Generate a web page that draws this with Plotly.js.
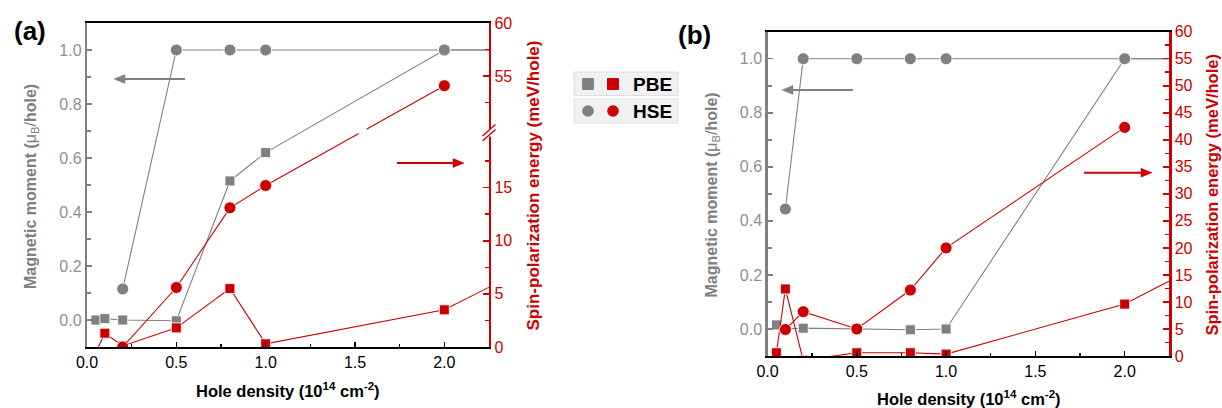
<!DOCTYPE html>
<html>
<head>
<meta charset="utf-8">
<script src="https://cdn.plot.ly/plotly-3.0.1.min.js"></script>
<style>html,body{margin:0;padding:0;background:#fff;}#chart{width:1222px;height:408px;}</style>
</head>
<body>
<div id="chart"></div>
<script>
// ---------- data ----------
// Panel (a)
const xPBE_a   = [0.05, 0.1, 0.2, 0.5, 0.8, 1.0, 2.0, 3.0];
const magPBE_a = [0.0, 0.005, 0.0, -0.003, 0.515, 0.62, 1.0, 1.0];
const spinPBE_a = [-0.5, 1.3, 0.1, 1.8, 5.5, 0.3, 3.5, 12.0];
const xHSEmag_a = [0.2, 0.5, 0.8, 1.0, 2.0, 3.0];
const magHSE_a  = [0.115, 1.0, 1.0, 1.0, 1.0, 1.0];
const xHSEspin_a = [0.2, 0.5, 0.8, 1.0, 2.0];
const spinHSE_a  = [0.0, 5.6, 13.1, 15.2, 54.1];
// Panel (b)
const xPBE_b   = [0.05, 0.1, 0.2, 0.5, 0.8, 1.0, 2.0, 3.0];
const magPBE_b = [0.015, 0.0, 0.003, 0.0, -0.003, 0.0, 1.0, 1.0];
const spinPBE_b = [0.6, 12.4, -0.8, 0.6, 0.6, 0.35, 9.6, 26.8];
const xHSEmag_b = [0.1, 0.2, 0.5, 0.8, 1.0, 2.0, 3.0];
const magHSE_b  = [0.444, 1.0, 1.0, 1.0, 1.0, 1.0, 1.0];
const xHSEspin_b = [0.1, 0.2, 0.5, 0.8, 1.0, 2.0];
const spinHSE_b  = [4.9, 8.2, 5.0, 12.2, 20.0, 42.3];
// tick labels
const xTicks = [0, 0.5, 1.0, 1.5, 2.0];
const magTicks = [0, 0.2, 0.4, 0.6, 0.8, 1.0];
const spinTicksA = [0, 5, 10, 15, 55, 60];
const spinMinorA = [2.5, 7.5, 12.5, 17.5, 52.5, 57.5];

// ---------- broken axis for panel (a) right axis ----------
const BREAK_LOW = 20.3, BREAK_SHIFT = 29.5;
const brk = v => (v > BREAK_LOW ? v - BREAK_SHIFT : v);

const W = 1222, H = 408;
const px = x => x / W;
const py = y => 1 - y / H;

const GRAY = '#808080', GRAYTXT = '#8f8f8f', RED = '#cc0000';
const FONT = 'Arial, "Liberation Sans", sans-serif';

function line(x, y, color, sym, size, xa, ya) {
  return {
    x: x, y: y, xaxis: xa, yaxis: ya, type: 'scatter', mode: 'lines+markers',
    line: {color: color, width: 1.1},
    marker: {symbol: sym, size: size, color: color, line: {color: 'rgba(255,255,255,0.85)', width: 1}},
    cliponaxis: true, showlegend: false, hoverinfo: 'skip'
  };
}

const traces = [
  // panel a
  line(xPBE_a, magPBE_a, GRAY, 'square', 10, 'x', 'y'),
  line(xHSEmag_a, magHSE_a, GRAY, 'circle', 12, 'x', 'y'),
  line(xPBE_a, spinPBE_a.map(brk), RED, 'square', 10, 'x', 'y2'),
  line(xHSEspin_a, spinHSE_a.map(brk), RED, 'circle', 12, 'x', 'y2'),
  // panel b
  line(xPBE_b, magPBE_b, GRAY, 'square', 10, 'x2', 'y3'),
  line(xHSEmag_b, magHSE_b, GRAY, 'circle', 12, 'x2', 'y3'),
  line(xPBE_b, spinPBE_b, RED, 'square', 10, 'x2', 'y4'),
  line(xHSEspin_b, spinHSE_b, RED, 'circle', 12, 'x2', 'y4')
];

const tickFont = c => ({family: FONT, size: 16, color: c});

function xAxis(dom, anchor) {
  return {
    domain: dom, anchor: anchor, range: [0, 2.25],
    tickmode: 'array', tickvals: xTicks, ticktext: xTicks.map(v => v.toFixed(1)),
    ticks: 'inside', ticklen: 5, tickwidth: 1.5, tickcolor: '#000',
    minor: {tickmode: 'linear', tick0: 0, dtick: 0.25, ticks: 'inside', ticklen: 3, tickwidth: 1.5, tickcolor: '#000'},
    showline: true, linecolor: '#000', linewidth: 2.2, mirror: true,
    showgrid: false, zeroline: false, tickfont: tickFont('#000'), fixedrange: true
  };
}
function magAxis(dom, anchor) {
  return {
    domain: dom, anchor: anchor, range: [-0.1, 1.1],
    tickmode: 'array', tickvals: magTicks, ticktext: magTicks.map(v => v.toFixed(1)),
    ticks: 'inside', ticklen: 5, tickwidth: 1.5, tickcolor: GRAY,
    minor: {tickmode: 'linear', tick0: 0, dtick: 0.1, ticks: 'inside', ticklen: 4, tickwidth: 1.5, tickcolor: GRAY},
    showline: true, linecolor: GRAY, linewidth: 2.2, mirror: false,
    showgrid: false, zeroline: false, tickfont: tickFont(GRAYTXT), fixedrange: true
  };
}

const domAx = [px(87), px(489)], domAy = [py(347), py(23)];
const domBx = [px(767.5), px(1169.3)], domBy = [py(356), py(31.7)];

const layout = {
  width: W, height: H, margin: {l: 0, r: 0, t: 0, b: 0},
  paper_bgcolor: '#fff', plot_bgcolor: 'rgba(0,0,0,0)',
  font: {family: FONT},
  showlegend: false,
  xaxis: xAxis(domAx, 'y'),
  yaxis: magAxis(domAy, 'x'),
  yaxis2: {
    overlaying: 'y', side: 'right', anchor: 'x', range: [0, 30.5],
    tickmode: 'array', tickvals: spinTicksA.map(brk), ticktext: spinTicksA.map(String),
    ticks: 'inside', ticklen: 6, tickwidth: 1.5, tickcolor: RED,
    minor: {tickmode: 'array', tickvals: spinMinorA.map(brk), ticks: 'inside', ticklen: 4, tickwidth: 1.5, tickcolor: RED},
    showline: true, linecolor: RED, linewidth: 2.2,
    showgrid: false, zeroline: false, tickfont: tickFont(RED), fixedrange: true
  },
  xaxis2: xAxis(domBx, 'y3'),
  yaxis3: magAxis(domBy, 'x2'),
  yaxis4: {
    overlaying: 'y3', side: 'right', anchor: 'x2', range: [0, 60],
    tickmode: 'linear', tick0: 0, dtick: 5,
    ticks: 'inside', ticklen: 6, tickwidth: 1.5, tickcolor: RED,
    minor: {tickmode: 'linear', tick0: 0, dtick: 2.5, ticks: 'inside', ticklen: 4, tickwidth: 1.5, tickcolor: RED},
    showline: true, linecolor: RED, linewidth: 2.2,
    showgrid: false, zeroline: false, tickfont: tickFont(RED), fixedrange: true
  },
  shapes: [],
  annotations: []
};

// ---- gap in the HSE line where it crosses the axis break (panel a) ----
(function () {
  const ys = spinHSE_a.map(brk);
  for (let i = 0; i < ys.length - 1; i++) {
    if (spinHSE_a[i] <= BREAK_LOW && spinHSE_a[i + 1] > BREAK_LOW) {
      const t = (BREAK_LOW - ys[i]) / (ys[i + 1] - ys[i]);
      const xc = xHSEspin_a[i] + t * (xHSEspin_a[i + 1] - xHSEspin_a[i]);
      layout.shapes.push({type: 'rect', xref: 'x', yref: 'y2', layer: 'above',
        x0: xc - 0.022, x1: xc + 0.022, y0: BREAK_LOW - 0.5, y1: BREAK_LOW + 0.5,
        fillcolor: '#fff', line: {width: 0}});
    }
  }
})();

// ---- break marks on right axis of panel (a) ----
layout.shapes.push(
  {type: 'rect', xref: 'paper', yref: 'paper', x0: px(485), x1: px(493), y0: py(136.5), y1: py(129), fillcolor: '#fff', line: {width: 0}, layer: 'above'},
  {type: 'line', xref: 'paper', yref: 'paper', x0: px(482.5), y0: py(141), x1: px(495.5), y1: py(129.5), line: {color: RED, width: 1.3}, layer: 'above'},
  {type: 'line', xref: 'paper', yref: 'paper', x0: px(482.5), y0: py(136), x1: px(495.5), y1: py(124.5), line: {color: RED, width: 1.3}, layer: 'above'}
);

// ---- custom legend ----
function rectPx(x0, y0, x1, y1, fill, lc) {
  return {type: 'rect', xref: 'paper', yref: 'paper', x0: px(x0), x1: px(x1), y0: py(y1), y1: py(y0),
    fillcolor: fill, line: {color: lc || fill, width: 1}, layer: 'above'};
}
function circPx(cx, cy, r, fill) {
  return {type: 'circle', xref: 'paper', yref: 'paper', x0: px(cx - r), x1: px(cx + r), y0: py(cy + r), y1: py(cy - r),
    fillcolor: fill, line: {color: fill, width: 0}, layer: 'above'};
}
layout.shapes.push(
  rectPx(574, 72, 678, 95.5, '#f1f1f1', '#dedede'),
  rectPx(574, 99, 678, 123, '#f1f1f1', '#dedede'),
  rectPx(582.5, 78.5, 593.5, 89.5, GRAY),
  rectPx(607.5, 78.5, 618.5, 89.5, RED),
  circPx(588, 111, 5.8, GRAY),
  circPx(613, 111, 5.8, RED)
);
const legText = (t, y) => ({xref: 'paper', yref: 'paper', x: px(631), y: py(y), xanchor: 'left', yanchor: 'middle',
  text: '<b>' + t + '</b>', showarrow: false, font: {family: FONT, size: 19, color: '#000'}});
layout.annotations.push(legText('PBE', 84.5), legText('HSE', 111.5));

// ---- arrows (drawn as shapes: shaft + filled head) ----
function arrowShapes(xTail, xHead, y, color) {
  const dir = Math.sign(xHead - xTail);
  const hl = 11, hw = 4.5;
  const xb = xHead - dir * hl;
  return [
    {type: 'line', xref: 'paper', yref: 'paper', x0: px(xTail), y0: py(y), x1: px(xb), y1: py(y),
      line: {color: color, width: 2}, layer: 'above'},
    {type: 'path', xref: 'paper', yref: 'paper', layer: 'above',
      path: 'M ' + px(xHead) + ' ' + py(y) + ' L ' + px(xb) + ' ' + py(y - hw) + ' L ' + px(xb) + ' ' + py(y + hw) + ' Z',
      fillcolor: color, line: {color: color, width: 0.5}}
  ];
}
layout.shapes.push(
  ...arrowShapes(185, 114, 79, GRAY),
  ...arrowShapes(397, 464, 163, RED),
  ...arrowShapes(853, 782, 90, GRAY),
  ...arrowShapes(1084, 1152, 172.7, RED)
);

// ---- titles ----
function txt(t, x, y, size, color, angle) {
  return {xref: 'paper', yref: 'paper', x: px(x), y: py(y), xanchor: 'center', yanchor: 'middle',
    text: t, showarrow: false, textangle: angle || 0, font: {family: FONT, size: size, color: color}};
}
const magTitle = '<b>Magnetic moment (</b>μ<sub>B</sub>/<b>hole)</b>';
const spinTitle = '<b>Spin-polarization energy (meV/hole)</b>';
const xTitle = '<b>Hole density (10<sup>14</sup> cm<sup>-2</sup>)</b>';
layout.annotations.push(
  txt('<b>(a)</b>', 29.5, 31, 26, '#000'),
  txt('<b>(b)</b>', 694, 35, 26, '#000'),
  txt(magTitle, 31.5, 186.5, 16, GRAY, -90),
  txt(spinTitle, 533, 185.5, 17, RED, -90),
  txt(xTitle, 288, 390, 16.5, '#000'),
  txt(magTitle, 711.5, 195, 16, GRAY, -90),
  txt(spinTitle, 1211.5, 195, 16.5, RED, -90),
  txt(xTitle, 969, 398, 16.5, '#000')
);

Plotly.newPlot('chart', traces, layout, {staticPlot: true, displayModeBar: false});
</script>
</body>
</html>
